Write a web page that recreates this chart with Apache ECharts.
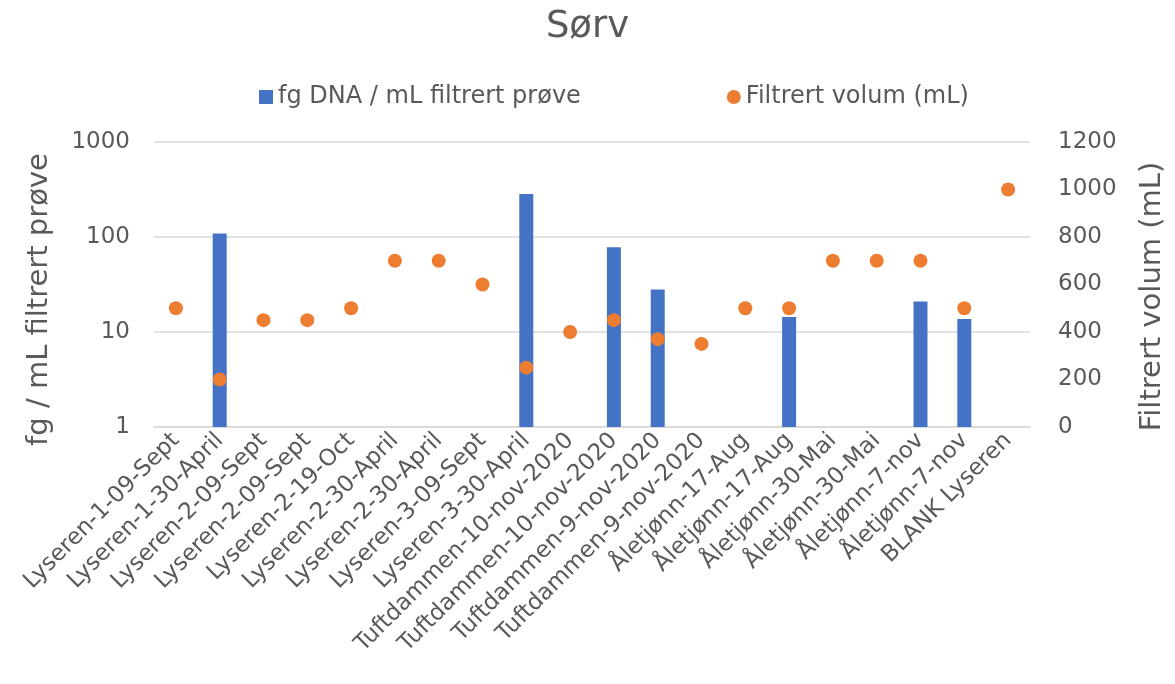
<!DOCTYPE html>
<html>
<head>
    <meta charset="utf-8" />
    <title>Sørv</title>
    <style>
        html, body { margin: 0; padding: 0; background: #fff; }
        #chart { width: 1175px; height: 684px; }
    </style>
</head>
<body>
    <div id="chart"></div>
    <script src="https://cdn.jsdelivr.net/npm/echarts@6/dist/echarts.min.js"></script>
    <script>
        var categories = [
            'Lyseren-1-09-Sept', 'Lyseren-1-30-April', 'Lyseren-2-09-Sept', 'Lyseren-2-09-Sept',
            'Lyseren-2-19-Oct', 'Lyseren-2-30-April', 'Lyseren-2-30-April', 'Lyseren-3-09-Sept',
            'Lyseren-3-30-April', 'Tuftdammen-10-nov-2020', 'Tuftdammen-10-nov-2020',
            'Tuftdammen-9-nov-2020', 'Tuftdammen-9-nov-2020', 'Åletjønn-17-Aug', 'Åletjønn-17-Aug',
            'Åletjønn-30-Mai', 'Åletjønn-30-Mai', 'Åletjønn-7-nov', 'Åletjønn-7-nov', 'BLANK Lyseren'
        ];
        // fg DNA / mL (null = no detection)
        var dnaValues = [null, 109, null, null, null, null, null, null, 284, null,
                         78, 28, null, null, 14.4, null, null, 21, 13.7, null];
        // filtered volume in mL
        var volumeValues = [500, 200, 450, 450, 500, 700, 700, 600, 250, 400,
                            450, 370, 350, 500, 500, 700, 700, 700, 500, 1000];

        var txt = '#595959';
        var font = '"DejaVu Sans", Verdana, sans-serif';

        var option = {
            textStyle: { fontFamily: font },
            title: {
                text: 'Sørv',
                left: 'center',
                top: 4,
                textStyle: { fontFamily: font, fontSize: 37, fontWeight: 'normal', color: txt }
            },
            legend: {
                top: 80,
                left: 254,
                itemGap: 146,
                itemWidth: 14,
                itemHeight: 14,
                textStyle: { fontFamily: font, fontSize: 24, color: txt },
                data: [
                    { name: 'fg DNA / mL filtrert prøve', icon: 'rect' },
                    { name: 'Filtrert volum (mL)', icon: 'circle' }
                ]
            },
            grid: { left: 154, right: 135, top: 142, bottom: 257 },
            xAxis: {
                type: 'category',
                data: categories,
                axisLine: { lineStyle: { color: '#d9d9d9', width: 1.5 } },
                axisTick: { show: false },
                axisLabel: {
                    interval: 0, rotate: 45, color: txt, fontSize: 23, fontFamily: font, margin: 10
                }
            },
            yAxis: [{
                type: 'log',
                logBase: 10,
                min: 1,
                max: 1000,
                name: 'fg / mL filtrert prøve',
                nameLocation: 'middle',
                nameGap: 100,
                nameTextStyle: { fontSize: 29, color: txt, fontFamily: font, padding: [0, 30, 0, 0] },
                axisLine: { show: false },
                axisTick: { show: false },
                axisLabel: {
                    color: txt, fontSize: 23, fontFamily: font, margin: 24,
                    formatter: function (v) { return String(v); }
                },
                splitLine: { lineStyle: { color: '#d9d9d9', width: 1.5 } }
            }, {
                type: 'value',
                min: 0,
                max: 1200,
                interval: 200,
                name: 'Filtrert volum (mL)',
                nameLocation: 'middle',
                nameGap: 108,
                nameRotate: 90,
                nameTextStyle: { fontSize: 29, color: txt, fontFamily: font, padding: [0, 24, 0, 0] },
                axisLine: { show: false },
                axisTick: { show: false },
                axisLabel: {
                    color: txt, fontSize: 23, fontFamily: font, margin: 28,
                    formatter: function (v) { return String(v); }
                },
                splitLine: { show: false }
            }],
            series: [{
                name: 'fg DNA / mL filtrert prøve',
                type: 'bar',
                yAxisIndex: 0,
                barWidth: 14,
                itemStyle: { color: '#4472c4' },
                data: dnaValues
            }, {
                name: 'Filtrert volum (mL)',
                type: 'scatter',
                yAxisIndex: 1,
                symbolSize: 14,
                itemStyle: { color: '#ed7d31', opacity: 1 },
                data: volumeValues
            }]
        };

        var chart = echarts.init(document.getElementById('chart'));
        chart.setOption(option);
    </script>
</body>
</html>
